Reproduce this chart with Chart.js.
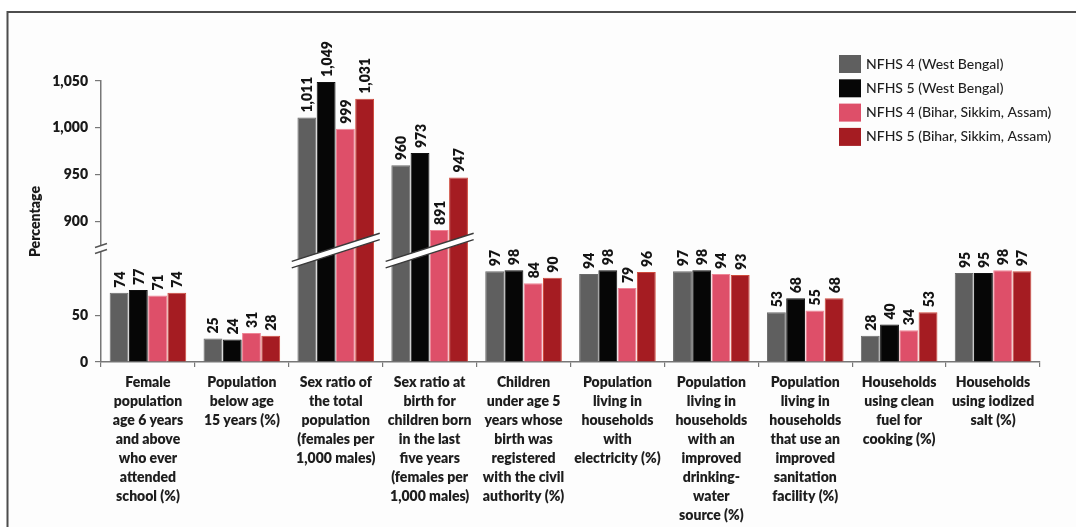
<!DOCTYPE html>
<html><head><meta charset="utf-8">
<script src="https://cdn.jsdelivr.net/npm/chart.js@4"></script>
<style>html,body{margin:0;padding:0;background:#fff;} #wrap{position:relative;width:1076px;height:527px;}</style>
</head><body><div id="wrap"><canvas id="c" width="1076" height="527"></canvas></div>
<script>
const categories = [
 ["Female","population","age 6 years","and above","who ever","attended","school (%)"],
 ["Population","below age","15 years (%)"],
 ["Sex ratio of","the total","population","(females per","1,000 males)"],
 ["Sex ratio at","birth for","children born","in the last","five years","(females per","1,000 males)"],
 ["Children","under age 5","years whose","birth was","registered","with the civil","authority (%)"],
 ["Population","living in","households","with","electricity (%)"],
 ["Population","living in","households","with an","improved","drinking-","water","source (%)"],
 ["Population","living in","households","that use an","improved","sanitation","facility (%)"],
 ["Households","using clean","fuel for","cooking (%)"],
 ["Households","using iodized","salt (%)"]
];
const seriesNames = ["NFHS 4 (West Bengal)","NFHS 5 (West Bengal)","NFHS 4 (Bihar, Sikkim, Assam)","NFHS 5 (Bihar, Sikkim, Assam)"];
const nfhs4WestBengal = [74,25,1011,960,97,94,97,53,28,95];
const nfhs5WestBengal = [77,24,1049,973,98,98,98,68,40,95];
const nfhs4Others     = [71,31,999,891,84,79,94,55,34,98];
const nfhs5Others     = [74,28,1031,947,90,96,93,68,53,97];
const yTickValues = [0,50,900,950,1000,1050];
const yTitle = "Percentage";

const seriesColors = ["#5f5f5f","#060606","#de4f69","#a51c22"];
const seriesBorders = ["#6a6a6a","#111111","#ee8596","#cf4a3c"];

// broken axis: values above threshold are shifted down by offset
const BREAK_OFFSET = 750;
const BREAK_THRESHOLD = 400;
const BREAK_AT = 119;
const toAxis = v => v > BREAK_THRESHOLD ? v - BREAK_OFFSET : v;
const fromAxis = a => a > BREAK_AT ? a + BREAK_OFFSET : a;
const fmt = v => v.toLocaleString('en-US');

const FAMILY = 'Lato, "Liberation Sans", sans-serif';
Chart.defaults.font.family = FAMILY;
Chart.defaults.color = '#1a1a1a';

const seriesValues = [nfhs4WestBengal, nfhs5WestBengal, nfhs4Others, nfhs5Others];
const datasets = seriesValues.map((vals, i) => ({
  label: seriesNames[i],
  rawValues: vals,
  data: vals.map(toAxis),
  backgroundColor: seriesColors[i],
  borderColor: seriesBorders[i],
  borderWidth: 1,
  categoryPercentage: 0.82,
  barPercentage: 0.98
}));

const framePlugin = {
  id: 'frame',
  beforeDraw(chart) {
    const ctx = chart.ctx;
    ctx.save();
    ctx.fillStyle = '#ffffff';
    ctx.fillRect(0, 0, chart.width, chart.height);
    ctx.fillStyle = '#fdfdfd';
    ctx.fillRect(8, 13, chart.width - 8, chart.height - 13);
    ctx.strokeStyle = '#4d4d4d';
    ctx.lineWidth = 2;
    ctx.beginPath();
    ctx.moveTo(7.5, chart.height);
    ctx.lineTo(7.5, 12);
    ctx.lineTo(chart.width, 12);
    ctx.stroke();
    ctx.restore();
  }
};

const breakPlugin = {
  id: 'breaks',
  afterDatasetsDraw(chart) {
    const ctx = chart.ctx, xs = chart.scales.x, ys = chart.scales.y;
    const cy = ys.getPixelForValue(BREAK_AT);
    ctx.save();
    categories.forEach((c, i) => {
      const broken = seriesValues.some(s => s[i] > BREAK_THRESHOLD);
      if (!broken) return;
      const cx = xs.getPixelForValue(i);
      const half = 44, slope = 0.32, th = 3.2;
      const xl = cx - half, xr = cx + half;
      const yl = cy + half * slope, yr = cy - half * slope;
      ctx.fillStyle = '#ffffff';
      ctx.beginPath();
      ctx.moveTo(xl, yl - th); ctx.lineTo(xr, yr - th);
      ctx.lineTo(xr, yr + th); ctx.lineTo(xl, yl + th);
      ctx.closePath(); ctx.fill();
      ctx.strokeStyle = '#3a3a3a'; ctx.lineWidth = 1.4;
      ctx.beginPath();
      ctx.moveTo(xl, yl - th); ctx.lineTo(xr, yr - th);
      ctx.moveTo(xl, yl + th); ctx.lineTo(xr, yr + th);
      ctx.stroke();
    });
    const ax = ys.right;
    const ay = cy - 2;
    ctx.fillStyle = '#fdfdfd';
    ctx.fillRect(ax - 3, ay - 3, 6, 6);
    ctx.strokeStyle = '#555'; ctx.lineWidth = 1.5;
    ctx.beginPath();
    ctx.moveTo(ax - 6, ay - 1); ctx.lineTo(ax + 6, ay - 5);
    ctx.moveTo(ax - 6, ay + 5); ctx.lineTo(ax + 6, ay + 1);
    ctx.stroke();
    ctx.fillStyle = '#141414';
    ctx.font = '800 14px ' + FAMILY;
    ctx.textAlign = 'left';
    ctx.textBaseline = 'middle';
    chart.data.datasets.forEach((ds, di) => {
      const meta = chart.getDatasetMeta(di);
      meta.data.forEach((bar, i) => {
        ctx.save();
        ctx.translate(bar.x + 1, bar.y - 5);
        ctx.rotate(-Math.PI / 2);
        ctx.fillText(fmt(ds.rawValues[i]), 0, 0);
        ctx.restore();
      });
    });
    ctx.restore();
  }
};

const legendPlugin = {
  id: 'customLegend',
  afterDraw(chart) {
    const ctx = chart.ctx;
    const x0 = 839, y0 = 55, bw = 22, bh = 18, step = 24.3;
    ctx.save();
    ctx.font = '500 14px ' + FAMILY;
    ctx.textAlign = 'left';
    ctx.textBaseline = 'middle';
    chart.data.datasets.forEach((ds, i) => {
      const y = y0 + i * step;
      ctx.fillStyle = ds.backgroundColor;
      ctx.fillRect(x0, y, bw, bh);
      ctx.fillStyle = '#1e1e1e';
      ctx.fillText(ds.label, x0 + bw + 5, y + bh / 2);
    });
    ctx.restore();
  }
};

new Chart(document.getElementById('c'), {
  type: 'bar',
  data: { labels: categories, datasets },
  options: {
    responsive: false,
    animation: false,
    layout: { padding: { left: 0, top: 81, right: 36, bottom: 0 } },
    plugins: { legend: { display: false }, tooltip: { enabled: false } },
    scales: {
      x: {
        offset: true,
        grid: { offset: true, drawOnChartArea: false, drawTicks: true, tickLength: 5, color: '#777', lineWidth: 1.2 },
        border: { display: true, color: '#777', width: 1.5 },
        ticks: {
          autoSkip: false, maxRotation: 0, minRotation: 0, padding: 6, color: '#1e1e1e',
          font: { size: 14, weight: '800', lineHeight: 1.36 }
        },
        afterFit(scale) { scale.height = 165; }
      },
      y: {
        min: 0, max: 300,
        afterBuildTicks(scale) { scale.ticks = yTickValues.map(v => ({ value: toAxis(v) })); },
        grid: { drawOnChartArea: false, drawTicks: true, tickLength: 6, color: '#777', lineWidth: 1.2 },
        border: { display: true, color: '#777', width: 1.5 },
        ticks: {
          padding: 7, color: '#1a1a1a',
          font: { size: 14, weight: '800' },
          callback: (val) => fmt(fromAxis(val))
        },
        title: { display: true, text: yTitle, color: '#1a1a1a', font: { size: 14, weight: '800' }, padding: { top: 27, bottom: 0 } },
        afterFit(scale) { scale.width = 101; }
      }
    }
  },
  plugins: [framePlugin, breakPlugin, legendPlugin]
});
</script>
</body></html>
